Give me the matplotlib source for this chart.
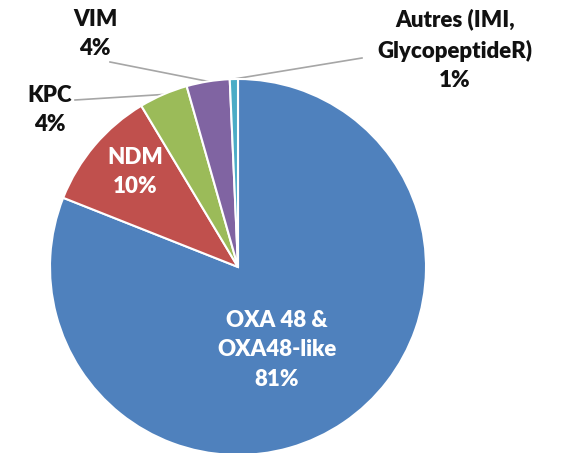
import numpy as np
import matplotlib
matplotlib.use("Agg")
import matplotlib.pyplot as plt

categories = ["OXA 48 &\nOXA48-like", "NDM", "KPC", "VIM", "Autres (IMI,\nGlycopeptideR)"]
values = [81.0, 10.4, 4.2, 3.7, 0.7]
pct_labels = ["81%", "10%", "4%", "4%", "1%"]
colors = ["#4F81BD", "#C0504D", "#9BBB59", "#8064A2", "#4BACC6"]

W, H = 562, 453
fig = plt.figure(figsize=(W / 100, H / 100), dpi=100)
ax = fig.add_axes([0, 0, 1, 1])
ax.set_xlim(0, W)
ax.set_ylim(0, H)
ax.set_aspect("equal")
ax.axis("off")

cx, cy, r = 238, H - 267, 188
wedges, _ = ax.pie(values, colors=colors, startangle=90, counterclock=False,
                   center=(cx, cy), radius=r,
                   wedgeprops=dict(edgecolor="white", linewidth=1.5))
ax.set_xlim(0, W)
ax.set_ylim(0, H)

font = ["Lato", "DejaVu Sans"]
fs = 16
fw = "heavy"
ls = 1.5

# inside labels
inside = {0: (277, H - 350), 1: (135, H - 172)}
for i, (x, y) in inside.items():
    ax.text(x, y, categories[i] + "\n" + pct_labels[i], ha="center", va="center",
            color="white", fontsize=fs, fontweight=fw, family=font, linespacing=ls)

# outside labels with leader lines
outside = {2: ((50, H - 110), (75, H - 100)),
           3: ((95, H - 34), (110, H - 62)),
           4: ((455, H - 50), (362, H - 58))}
for i, ((tx, ty), (lx, ly)) in outside.items():
    ax.text(tx, ty, categories[i] + "\n" + pct_labels[i], ha="center", va="center",
            color="#111111", fontsize=fs, fontweight=fw, family=font, linespacing=ls)
    w = wedges[i]
    ang = np.deg2rad((w.theta1 + w.theta2) / 2)
    ex = cx + r * np.cos(ang)
    ey = cy + r * np.sin(ang)
    ax.plot([lx, ex], [ly, ey], color="#A6A6A6", lw=1.2, zorder=0.5)

fig.savefig("out.png", dpi=100, facecolor="white")
